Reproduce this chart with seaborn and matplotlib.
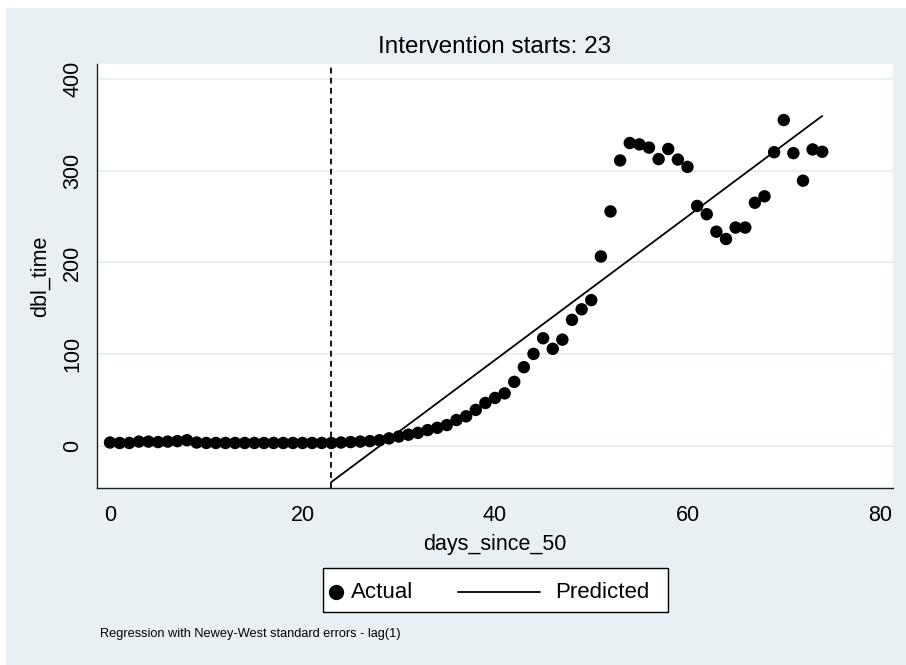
import matplotlib
matplotlib.use('Agg')
import matplotlib.pyplot as plt
from matplotlib.patches import Rectangle
from matplotlib.lines import Line2D
import pandas as pd
import seaborn as sns

# data
days_since_50 = list(range(75))
dbl_time = [4, 3.5, 3.5, 5, 5, 4.5, 5, 5.5, 6.5, 4,
            3.5, 3.5, 3.5, 3.5, 3.5, 3.5, 3.5, 3.5, 3.5, 3.5,
            3.5, 3.5, 3.5, 3.5, 4, 4.5, 5, 5.5, 6.5, 8.5,
            10.5, 12.5, 14.5, 17.5, 20, 23, 28.5, 32.5, 39.5, 47,
            52.5, 57.5, 70, 86, 100.5, 117.5, 106, 116, 137.5, 149,
            159, 206.5, 255.5, 311, 330, 328.5, 325, 312.5, 323.5, 312,
            304, 261.5, 252.5, 233.5, 225.5, 238, 238, 265, 272, 320,
            355, 319, 289, 323, 320.5]
pred_days = [23, 74]
pred_vals = [-39, 359.5]
intervention = 23
legend_labels = ['Actual', 'Predicted']

actual = pd.DataFrame({'days_since_50': days_since_50, 'dbl_time': dbl_time})
predicted = pd.DataFrame({'days_since_50': pred_days, 'dbl_time': pred_vals})

sns.set_style('white')
plt.rcParams['font.family'] = ['Liberation Sans', 'DejaVu Sans']
plt.rcParams['text.color'] = 'black'
plt.rcParams['axes.labelcolor'] = 'black'
plt.rcParams['xtick.color'] = 'black'
plt.rcParams['ytick.color'] = 'black'

W, H = 906, 665
fig = plt.figure(figsize=(W / 100, H / 100), dpi=100)
fig.patch.set_facecolor('white')
bg = '#E8F0F3'
fig.add_artist(Rectangle((6 / W, 0), 1, 1 - 8 / H, transform=fig.transFigure,
                         facecolor=bg, edgecolor='none', zorder=-5))

ax = fig.add_axes([97 / W, 1 - 488 / H, (893 - 97) / W, (488 - 64) / H])
ax.set_facecolor('white')

for yv in [0, 100, 200, 300, 400]:
    ax.axhline(yv, color='#E8F0F3', lw=1.5, zorder=0)

ax.axvline(intervention, color='black', lw=1.3, ls=(0, (3.2, 2.4)), zorder=1)

sns.lineplot(data=predicted, x='days_since_50', y='dbl_time', ax=ax,
             color='black', lw=1.3, zorder=2)
sns.scatterplot(data=actual, x='days_since_50', y='dbl_time', ax=ax,
                color='black', s=80, edgecolor='none', zorder=3)

ax.set_xlim(-1.35, 81.35)
ax.set_ylim(-45.5, 416)
ax.set_xticks([0, 20, 40, 60, 80])
ax.set_yticks([0, 100, 200, 300, 400])
ax.tick_params(axis='both', direction='out', length=6, width=1, color='#333333',
               labelsize=15.5, pad=4)
ax.tick_params(axis='x', pad=6)
for lab in ax.get_yticklabels():
    lab.set_rotation(90)
    lab.set_va('center')

for side in ['top', 'right']:
    ax.spines[side].set_visible(False)
for side in ['left', 'bottom']:
    ax.spines[side].set_color('#222222')
    ax.spines[side].set_linewidth(1)

ax.set_xlabel('days_since_50', fontsize=15.5, labelpad=6)
ax.set_ylabel('dbl_time', fontsize=15.5, labelpad=8)
ax.set_title('Intervention starts: 23', fontsize=17.5, pad=8)

# legend box drawn the Stata way: dot close to its label, long line for the fit
fig.add_artist(Rectangle((323 / W, 1 - 612 / H), (668 - 323) / W, 44 / H,
                         transform=fig.transFigure, facecolor='white',
                         edgecolor='black', lw=1, zorder=5))
ly = 1 - 592 / H
fig.add_artist(Line2D([336 / W], [ly], marker='o', markersize=10, color='black',
                      ls='none', transform=fig.transFigure, zorder=6))
fig.text(351 / W, ly, legend_labels[0], fontsize=16, va='center', ha='left', zorder=6)
fig.add_artist(Line2D([458 / W, 540 / W], [ly, ly], color='black', lw=1.3,
                      transform=fig.transFigure, zorder=6))
fig.text(555 / W, ly, legend_labels[1], fontsize=16, va='center', ha='left', zorder=6)

fig.text(100 / W, 1 - 634 / H, 'Regression with Newey-West standard errors - lag(1)',
         fontsize=9.2, va='center', ha='left')

fig.savefig('out.png', dpi=100, facecolor=fig.get_facecolor())
